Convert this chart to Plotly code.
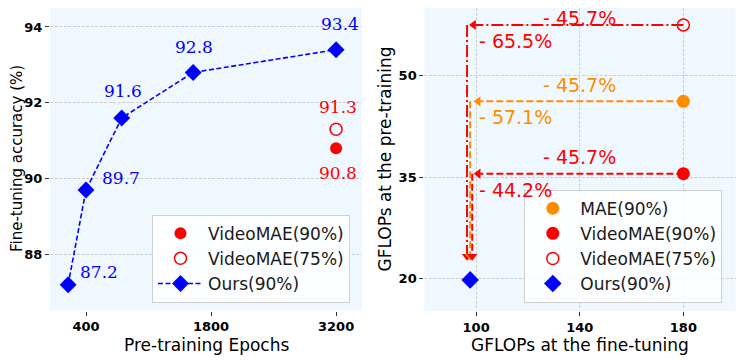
import plotly.graph_objects as go

# ---------------- data: left panel ----------------
epochs_ours = [200, 400, 800, 1600, 3200]
acc_ours = [87.2, 89.7, 91.6, 92.8, 93.4]
epochs_videomae = [3200]
acc_videomae90 = [90.8]
acc_videomae75 = [91.3]
left_xticks = [400, 1800, 3200]
left_yticks = [88, 90, 92, 94]

# ---------------- data: right panel ----------------
ft_baseline = 180          # fine-tuning GFLOPs of baselines
ft_ours = 97.7             # fine-tuning GFLOPs of ours
pt_mae90 = 46.2
pt_videomae90 = 35.5
pt_videomae75 = 57.5
pt_ours = 19.8
ft_labels = ["- 45.7%", "- 45.7%", "- 45.7%"]      # 75%, MAE, VideoMAE90
pt_labels = ["- 65.5%", "- 57.1%", "- 44.2%"]
right_xticks = [100, 140, 180]
right_yticks = [20, 35, 50]

# page body has an 8px default margin: lay out in window pixels, shifted
OFF = 8
W, H = 747 - OFF, 363 - OFF
BG = "#F0F8FF"
GRID = "#cfcfcf"
BLUE, RED, ORANGE = "blue", "red", "darkorange"
SANS = "DejaVu Sans"
SERIF = "DejaVu Serif"


def px(x):
    return (x - OFF) / W


def py(y):
    return 1 - (y - OFF) / H


fig = go.Figure()

# ---- left panel traces ----
fig.add_trace(go.Scatter(x=epochs_videomae, y=acc_videomae90, mode="markers",
                         marker=dict(color=RED, size=12, symbol="circle"),
                         name="VideoMAE(90%)", xaxis="x", yaxis="y", legend="legend"))
fig.add_trace(go.Scatter(x=epochs_videomae, y=acc_videomae75, mode="markers",
                         marker=dict(color=RED, size=12, symbol="circle-open", line=dict(width=1.5)),
                         name="VideoMAE(75%)", xaxis="x", yaxis="y", legend="legend"))
fig.add_trace(go.Scatter(x=epochs_ours, y=acc_ours, mode="lines+markers",
                         line=dict(color=BLUE, width=1.6, dash="5px,2.5px"),
                         marker=dict(color=BLUE, size=13, symbol="diamond"),
                         name="Ours(90%)", xaxis="x", yaxis="y", legend="legend"))

# ---- right panel: arrows ----
baselines = [
    (pt_videomae75, RED, "12px,3px,2px,3px", -1.2, 99.0 - ft_ours),
    (pt_mae90, ORANGE, "7px,3px", 0.0, 100.8 - ft_ours),
    (pt_videomae90, RED, "7px,3px", 0.8, 100.8 - ft_ours),
]
arrow_tip_y = 23.3
for yv, col, dash, vdx, hdx in baselines:
    hx = ft_ours + hdx
    vx = ft_ours + vdx
    fig.add_trace(go.Scatter(x=[ft_baseline, hx], y=[yv, yv], mode="lines",
                             line=dict(color=col, width=2, dash=dash),
                             showlegend=False, hoverinfo="skip", xaxis="x2", yaxis="y2"))
    fig.add_trace(go.Scatter(x=[vx, vx], y=[yv, arrow_tip_y], mode="lines",
                             line=dict(color=col, width=2, dash=dash),
                             showlegend=False, hoverinfo="skip", xaxis="x2", yaxis="y2"))
    fig.add_trace(go.Scatter(x=[hx], y=[yv], mode="markers",
                             marker=dict(color=col, size=9, symbol="triangle-left"),
                             showlegend=False, hoverinfo="skip", xaxis="x2", yaxis="y2"))
    fig.add_trace(go.Scatter(x=[vx], y=[arrow_tip_y], mode="markers",
                             marker=dict(color=col, size=9, symbol="triangle-down"),
                             showlegend=False, hoverinfo="skip", xaxis="x2", yaxis="y2"))

# ---- right panel points ----
fig.add_trace(go.Scatter(x=[ft_baseline], y=[pt_mae90], mode="markers",
                         marker=dict(color=ORANGE, size=13, symbol="circle"),
                         name="MAE(90%)", xaxis="x2", yaxis="y2", legend="legend2"))
fig.add_trace(go.Scatter(x=[ft_baseline], y=[pt_videomae90], mode="markers",
                         marker=dict(color=RED, size=13, symbol="circle"),
                         name="VideoMAE(90%)", xaxis="x2", yaxis="y2", legend="legend2"))
fig.add_trace(go.Scatter(x=[ft_baseline], y=[pt_videomae75], mode="markers",
                         marker=dict(color=RED, size=12, symbol="circle-open", line=dict(width=1.5)),
                         name="VideoMAE(75%)", xaxis="x2", yaxis="y2", legend="legend2"))
fig.add_trace(go.Scatter(x=[ft_ours], y=[pt_ours], mode="markers",
                         marker=dict(color=BLUE, size=13.5, symbol="diamond"),
                         name="Ours(90%)", xaxis="x2", yaxis="y2", legend="legend2"))

# ---- annotations: left value labels ----
ann = []
left_label_pos = [  # (xanchor, xshift, yshift)
    ("left", 10, 13), ("left", 14, 12), ("center", 1, 27), ("center", 1, 25), ("center", 4, 26)]
for xv, yv, (xa, xs, ys) in zip(epochs_ours, acc_ours, left_label_pos):
    ann.append(dict(x=xv, y=yv, xref="x", yref="y", text=f"{yv:.1f}", showarrow=False,
                    xanchor=xa, yanchor="middle", xshift=xs, yshift=ys,
                    font=dict(family=SERIF, size=17, color=BLUE)))
ann.append(dict(x=epochs_videomae[0], y=acc_videomae75[0], xref="x", yref="y",
                text=f"{acc_videomae75[0]:.1f}", showarrow=False, xanchor="center", yanchor="middle",
                xshift=2, yshift=22, font=dict(family=SERIF, size=17, color=RED)))
ann.append(dict(x=epochs_videomae[0], y=acc_videomae90[0], xref="x", yref="y",
                text=f"{acc_videomae90[0]:.1f}", showarrow=False, xanchor="center", yanchor="middle",
                xshift=2, yshift=-25, font=dict(family=SERIF, size=17, color=RED)))

# ---- annotations: right reduction labels ----
ft_label_shift = [7, 16, 17]
for (yv, col, _, _, _), ftl, ptl, ys in zip(baselines, ft_labels, pt_labels, ft_label_shift):
    ann.append(dict(x=(ft_baseline + right_xticks[0]) / 2, y=yv, xref="x2", yref="y2", text=ftl,
                    showarrow=False, xanchor="center", yanchor="middle", yshift=ys, borderpad=0,
                    font=dict(family=SANS, size=19, color=col)))
    ann.append(dict(x=right_xticks[0], y=yv, xref="x2", yref="y2", text=ptl,
                    showarrow=False, xanchor="left", yanchor="middle", yshift=-16, xshift=1,
                    font=dict(family=SANS, size=19, color=col)))

# ---- axis titles ----
title_font = dict(family=SANS, size=17, color="black")
ann += [
    dict(x=px(17), y=py(159), xref="paper", yref="paper", text="Fine-tuning accuracy (%)",
         textangle=-90, showarrow=False, xanchor="center", yanchor="middle", borderpad=0,
         font=dict(family=SANS, size=15, color="black")),
    dict(x=px(206), y=py(345), xref="paper", yref="paper", text="Pre-training Epochs",
         showarrow=False, xanchor="center", yanchor="middle", font=title_font),
    dict(x=px(384), y=py(159.5), xref="paper", yref="paper", text="GFLOPs at the pre-training",
         textangle=-90, showarrow=False, xanchor="center", yanchor="middle", font=title_font),
    dict(x=px(580), y=py(345), xref="paper", yref="paper", text="GFLOPs at the fine-tuning",
         showarrow=False, xanchor="center", yanchor="middle", font=title_font),
]

tick_font = dict(family=SANS, size=13, color="black", weight="bold")
axis_common = dict(ticks="outside", ticklen=4, tickwidth=1, tickcolor="#333333",
                   tickfont=tick_font, showline=False, zeroline=False,
                   gridcolor=GRID, griddash="3px,1.5px", gridwidth=0.8)

legend_common = dict(bgcolor="rgba(255,255,255,0.85)", bordercolor="#d0d0d0", borderwidth=1,
                     font=dict(family=SANS, size=17, color="#1a1a1a"), itemwidth=45,
                     xanchor="left", yanchor="bottom", itemclick=False)

fig.update_layout(
    width=W, height=H, margin=dict(l=0, r=0, t=0, b=0),
    paper_bgcolor="white", plot_bgcolor=BG,
    xaxis=dict(domain=[px(50), px(362)], range=[-3, 3490], tickvals=left_xticks,
               showgrid=False, anchor="y", **axis_common),
    yaxis=dict(domain=[py(310.5), py(8)], range=[86.52, 94.5], tickvals=left_yticks,
               showgrid=True, anchor="x", **axis_common),
    xaxis2=dict(domain=[px(424.3), px(735.7)], range=[80, 200.2], tickvals=right_xticks,
                showgrid=True, anchor="y2", **axis_common),
    yaxis2=dict(domain=[py(311), py(8)], range=[15.2, 60], tickvals=right_yticks,
                showgrid=True, anchor="x2", **axis_common),
    legend=dict(x=px(152), y=py(302.7), **legend_common),
    legend2=dict(x=px(524.3), y=py(302.7), **legend_common),
    annotations=ann,
)

fig.write_html("out.html")
